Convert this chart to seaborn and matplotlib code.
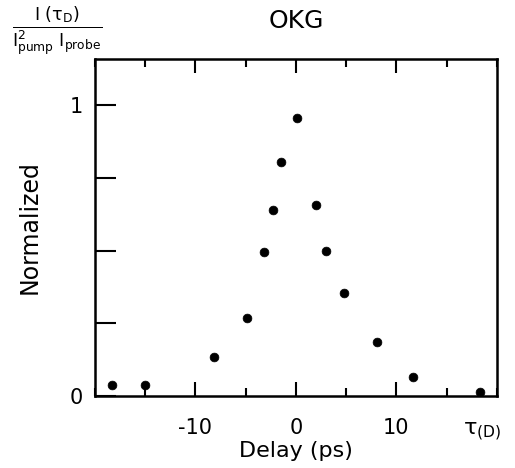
import matplotlib
matplotlib.use("Agg")
import pandas as pd
import seaborn as sns
import matplotlib.pyplot as plt
from matplotlib.ticker import MultipleLocator

# data
delay_ps = [-18.3, -15.0, -8.2, -4.9, -3.2, -2.3, -1.5, 0.1, 2.0, 3.0, 4.8, 8.1, 11.7, 18.3]
normalized = [0.037, 0.037, 0.133, 0.27, 0.496, 0.64, 0.804, 0.958, 0.657, 0.499, 0.356, 0.185, 0.066, 0.014]
x_ticks = [-10, 0, 10]
x_tick_labels = ["-10", "0", "10"]
y_ticks = [0, 1]
y_tick_labels = ["0", "1"]

df = pd.DataFrame({"delay": delay_ps, "norm": normalized})

sns.set_style("white")
plt.rcParams['font.family'] = ['DejaVu Sans']
plt.rcParams['mathtext.fontset'] = 'dejavusans'
plt.rcParams['text.color'] = 'black'
plt.rcParams['axes.labelcolor'] = 'black'
plt.rcParams['xtick.color'] = 'black'
plt.rcParams['ytick.color'] = 'black'

fig = plt.figure(figsize=(5.15, 4.68), dpi=100)
ax = fig.add_axes([0.1845, 0.1538, 0.78, 0.7202])

sns.scatterplot(data=df, x="delay", y="norm", ax=ax, color="black", s=40, edgecolor="black", linewidth=0.5)

ax.set_xlim(-20, 20)
ax.set_ylim(0, 1.16)

ax.set_xticks(x_ticks)
ax.set_xticklabels(x_tick_labels, fontsize=15)
ax.xaxis.set_minor_locator(MultipleLocator(5))
ax.set_yticks(y_ticks)
ax.set_yticklabels(y_tick_labels, fontsize=15)
ax.yaxis.set_minor_locator(MultipleLocator(0.25))

ax.tick_params(axis="x", which="major", direction="in", length=10, width=1.5, top=True, bottom=True, pad=16)
ax.tick_params(axis="x", which="minor", direction="in", length=6, width=1.5, top=True, bottom=True)
ax.tick_params(axis="y", which="both", direction="in", length=15, width=1.5, left=True, right=False, pad=9)

for sp in ax.spines.values():
    sp.set_linewidth(1.8)
    sp.set_color("black")

ax.set_xlabel("Delay (ps)", fontsize=16, labelpad=2)
ax.set_ylabel("Normalized", fontsize=17, labelpad=20)
ax.set_title("OKG", fontsize=18, pad=22)

# tau label under the right end of the x axis
ax.text(18.6, -0.085, r"$\mathrm{\tau_{(D)}}$", fontsize=16, ha="center", va="top")

# y quantity written top-left as a fraction
fig.text(0.11, 0.933, r"$\frac{\mathrm{I\ (\tau_D)}}{\mathrm{I^2_{pump}\ I_{probe}}}$", fontsize=18, ha="center", va="center")

fig.savefig("out.png", dpi=100)
